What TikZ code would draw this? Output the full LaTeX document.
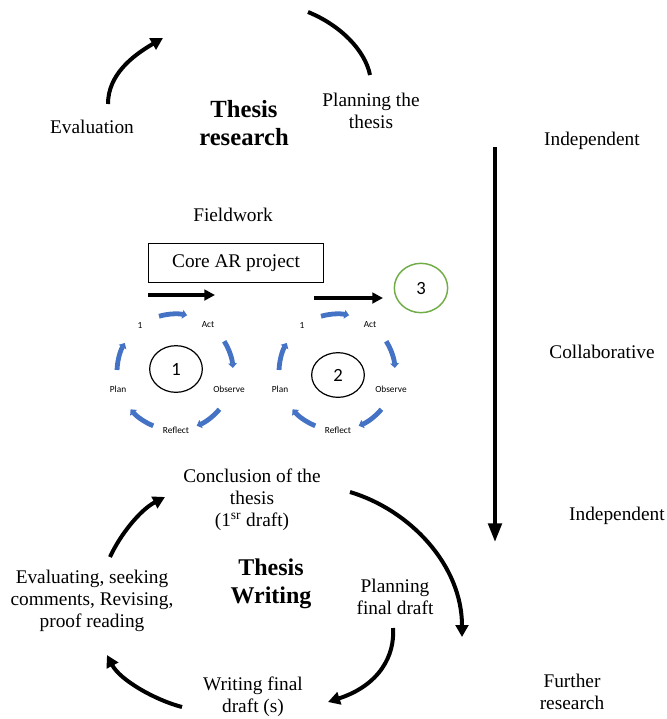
\documentclass[tikz,border=0pt]{standalone}
\usepackage{fontspec}
\setmainfont{Liberation Serif}
\newfontfamily\calfont{Carlito}
\usetikzlibrary{arrows.meta,calc,shapes.geometric}
\definecolor{cycleblue}{HTML}{4472C4}
\definecolor{stagegreen}{HTML}{70AD47}

\begin{document}
\begin{tikzpicture}[x=0.75pt,y=0.75pt,
  txt/.style={font=\fontsize{14.5}{16.5}\selectfont, align=center, inner sep=0pt},
  title/.style={font=\bfseries\fontsize{18.5}{21.5}\selectfont, align=center, inner sep=0pt},
  bigarrow/.style={line width=3pt, -{Triangle[length=9pt,width=9.5pt]}},
  bigarc/.style={line width=3pt},
  flowarrow/.style={line width=2.4pt, -{Triangle[length=8pt,width=8pt]}},
  bluearc/.style={draw=cycleblue, line width=3.6pt, -{Triangle[length=3.5pt,width=6.5pt]}},
  small/.style={font=\calfont\fontsize{7}{8}\selectfont, inner sep=0pt},
  stagenum/.style={ellipse, draw, line width=0.9pt, inner sep=0pt,
    font=\calfont\fontsize{14}{16}\selectfont}
]
\useasboundingbox (0,0) rectangle (667,-719);

% ---------- thesis research cycle ----------
\node[txt] (eval) at (92,-127) {Evaluation};
\node[title] (research) at (244,-123) {Thesis\\research};
\node[txt] (planthesis) at (371,-111) {Planning the\\thesis};

\coordinate (ra1) at (108,-104);
\coordinate (ra2) at (163,-38);
\draw[bigarrow] (ra1) .. controls (108,-75) and (132,-56) .. (ra2);
\coordinate (rb1) at (308,-12);
\coordinate (rb2) at (370,-75);
\draw[bigarc] (rb1) .. controls (340,-25) and (365,-50) .. (rb2);

% ---------- independence scale ----------
\node[txt] (ind1) at (592,-141) {Independent};
\node[txt] (coll) at (602,-352) {Collaborative};
\node[txt] (ind2) at (617,-516) {Independent};
\node[txt] (further) at (572,-692) {Further\\research};
\coordinate (vtop) at (495,-147);
\coordinate (vbot) at (495,-542);
\draw[line width=3pt, -{Triangle[length=14pt,width=10pt]}] (vtop) -- (vbot);

% ---------- fieldwork ----------
\node[txt] (field) at (233,-215) {Fieldwork};
\node[txt, draw, line width=1.1pt, minimum width=131pt, minimum height=29pt] (core) at (236,-263) {Core AR project};

\coordinate (fa1) at (148,-295);
\coordinate (fa2) at (215,-295);
\draw[flowarrow] (fa1) -- (fa2);
\coordinate (fb1) at (314,-298);
\coordinate (fb2) at (383,-298);
\draw[flowarrow] (fb1) -- (fb2);

\node[stagenum, draw=stagegreen, line width=1.1pt, minimum width=40pt, minimum height=37pt] (s3) at (421,-288) {3};

% action research cycles
\foreach \cx/\n/\ey/\eh in {175/1/-369/35pt, 337/2/-375/33.5pt}{
  \coordinate (c\n) at (\cx,-372);
  \node[stagenum, minimum width=39.5pt, minimum height=\eh] (s\n) at (\cx+1,\ey) {\n};
  \foreach \a in {106,32,-40,-112,178}{
    \draw[bluearc] ($(c\n)+(\a:58)$) arc[start angle=\a, end angle=\a-28, radius=58];
  }
  \node[small] (l1-\n) at ($(c\n)+(-35,47)$) {1};
  \node[small] (act-\n) at ($(c\n)+(33,47)$) {Act};
  \node[small] (obs-\n) at ($(c\n)+(54,-17)$) {Observe};
  \node[small] (ref-\n) at ($(c\n)+(1,-58)$) {Reflect};
  \node[small] (plan-\n) at ($(c\n)+(-57,-17)$) {Plan};
}

% ---------- thesis writing cycle ----------
\node[txt] (concl) at (252,-500) {Conclusion of the\\thesis\\(1\textsuperscript{sr} draft)};
\node[title, font=\bfseries\fontsize{18}{21}\selectfont] (writing) at (271,-584) {Thesis\\Writing};
\node[txt] (evalseek) at (92,-601) {Evaluating, seeking\\comments, Revising,\\proof reading};
\node[txt] (planfinal) at (395,-597) {Planning\\final draft};
\node[txt] (writefinal) at (253,-697) {Writing final\\draft (s)};

\coordinate (wa1) at (110,-557);
\coordinate (wa2) at (165,-497);
\draw[bigarrow] (wa1) .. controls (120,-535) and (140,-510) .. (wa2);
\coordinate (wb1) at (350,-492);
\coordinate (wb2) at (462,-637);
\draw[bigarrow] (wb1) .. controls (410,-510) and (462,-565) .. (wb2);
\coordinate (wc1) at (393,-628);
\coordinate (wc2) at (328,-702);
\draw[bigarrow] (wc1) .. controls (395,-655) and (380,-685) .. (wc2);
\coordinate (wd1) at (182,-707);
\coordinate (wd2) at (107,-655);
\draw[bigarrow] (wd1) .. controls (155,-700) and (120,-680) .. (wd2);
\end{tikzpicture}
\end{document}
